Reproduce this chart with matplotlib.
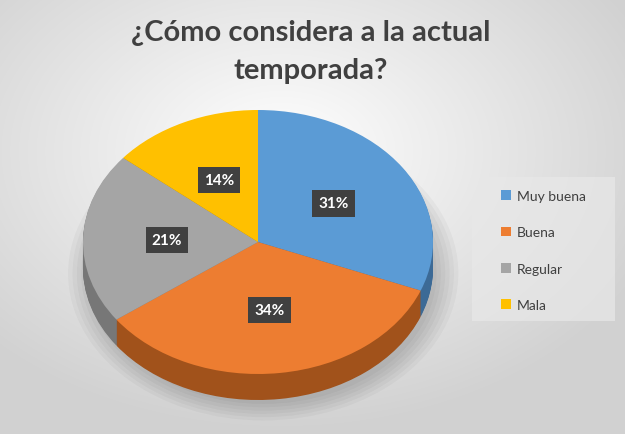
import numpy as np
import matplotlib
matplotlib.use('Agg')
import matplotlib.pyplot as plt
from matplotlib.patches import Rectangle, Ellipse

plt.rcParams['font.family'] = ['Lato', 'DejaVu Sans']

categories = ["Muy buena", "Buena", "Regular", "Mala"]
values = [31, 34, 21, 14]
colors = ['#5B9BD5', '#ED7D31', '#A5A5A5', '#FFC000']
side_colors = ['#3c6a96', '#a1521b', '#777777', '#b08400']
title = "¿Cómo considera a la actual\ntemporada?"

W, H = 625, 435
fig = plt.figure(figsize=(W / 100, H / 100), dpi=100)

# radial background gradient
bg = fig.add_axes([0, 0, 1, 1])
yy, xx = np.mgrid[0:H, 0:W]
d = np.sqrt(((xx - W * 0.45) / W) ** 2 + ((yy - H * 0.35) / H) ** 2)
g = np.clip(1.0 - d * 0.28, 0.82, 1.0)
bg.imshow(np.dstack([g, g, g]), extent=[0, 1, 0, 1], aspect='auto')
bg.set_axis_off()

# pie axes: radius 1 -> 175 px horizontally, 132 px vertically
cx, cy, rx, ry = 258, 243, 175, 132
ax = fig.add_axes([(cx - rx) / W, (H - cy - ry) / H, 2 * rx / W, 2 * ry / H])
depth = 26 / ry

# soft shadow under the pie
for k in range(6):
    sh = Ellipse((0.03, -depth - 0.04), 1.98 + 0.05 * k, 1.98 + 0.05 * k,
                 color='black', alpha=0.03, lw=0, zorder=0)
    sh.set_clip_on(False)
    ax.add_patch(sh)

# side of the 3D pie, stacked layers
n = 26
for k in range(n):
    off = depth * (1 - k / n)
    wedges, _ = ax.pie(values, startangle=90, counterclock=False,
                       colors=side_colors, center=(0, -off),
                       wedgeprops=dict(linewidth=0))
    for w in wedges:
        w.set_clip_on(False)

wedges, _, autotexts = ax.pie(values, startangle=90, counterclock=False,
                              colors=colors, autopct='%1.0f%%', pctdistance=0.52,
                              wedgeprops=dict(linewidth=0),
                              textprops=dict(color='white', fontsize=11, fontweight='bold'))
for w in wedges:
    w.set_clip_on(False)
for t in autotexts:
    t.set_bbox(dict(boxstyle='square,pad=0.4', fc='#404040', ec='none'))
    t.set_zorder(10)
ax.set_aspect('auto')
ax.set_xlim(-1, 1)
ax.set_ylim(-1, 1)
ax.set_axis_off()

# title
fig.text(311 / W, 1 - 52 / H, title, ha='center', va='center', fontsize=21,
         fontweight='bold', color='#404040', linespacing=1.55)

# legend
fig.add_artist(Rectangle((472 / W, 1 - 322 / H), 143 / W, 144 / H,
                         transform=fig.transFigure, fc='#e8e8e8', ec='none',
                         alpha=0.7, zorder=1))
leg = fig.legend(wedges, categories, loc='upper left',
                 bbox_to_anchor=(494 / W, 1 - 184 / H), frameon=False,
                 fontsize=10, labelspacing=1.75, handlelength=0.7,
                 handleheight=0.7, handletextpad=0.45, borderpad=0)
for t in leg.get_texts():
    t.set_color('#404040')

fig.savefig('out.png', dpi=100)
